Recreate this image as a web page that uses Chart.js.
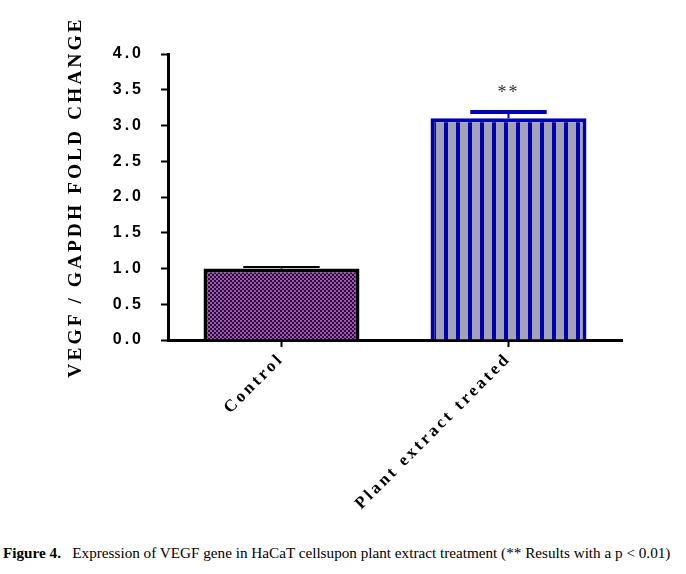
<!DOCTYPE html>
<html>
<head>
<meta charset="utf-8">
<script src="https://cdn.jsdelivr.net/npm/chart.js@4.4.1/dist/chart.umd.min.js"></script>
<style>
  html, body { margin: 0; padding: 0; background: #fff; }
  #wrap { position: relative; width: 686px; height: 574px; overflow: hidden; }
  #c { position: absolute; left: 0; top: 0; }
  #cap { position: absolute; left: 3px; top: 544px; font-family: "Liberation Serif", "Times New Roman", serif; font-size: 15.2px; color: #000; white-space: pre; }
</style>
</head>
<body>
<div id="wrap">
  <canvas id="c" width="686" height="530"></canvas>
  <div id="cap"><b>Figure 4.</b>   Expression of VEGF gene in HaCaT cellsupon plant extract treatment (** Results with a p &lt; 0.01)</div>
</div>
<script>
// ---- data ----
const categories = ['Control', 'Plant extract treated'];
const foldChange = [1.0, 3.1];
const errorSEM = [0.02, 0.09];
const significance = ['', '**'];
const yTickLabels = ['0.0', '0.5', '1.0', '1.5', '2.0', '2.5', '3.0', '3.5', '4.0'];
const yAxisTitle = 'VEGF / GAPDH FOLD CHANGE';

// ---- fill patterns ----
function checkerPattern(ctx) {
  const p = document.createElement('canvas');
  p.width = 4; p.height = 4;
  const g = p.getContext('2d');
  g.fillStyle = '#250a2e'; g.fillRect(0, 0, 4, 4);
  g.fillStyle = '#a052ba'; g.fillRect(0, 0, 2, 2); g.fillRect(2, 2, 2, 2);
  return ctx.createPattern(p, 'repeat');
}
function stripePattern(ctx) {
  const p = document.createElement('canvas');
  p.width = 12; p.height = 12;
  const g = p.getContext('2d');
  g.fillStyle = '#a3a3b6'; g.fillRect(0, 0, 12, 12);
  g.fillStyle = '#0000b0'; g.fillRect(0, 0, 4, 12);
  return ctx.createPattern(p, 'repeat');
}

const ctx = document.getElementById('c').getContext('2d');

const spacingPlugin = {
  id: 'spacing',
  beforeUpdate(chart) { chart.ctx.letterSpacing = '3px'; },
  beforeLayout(chart) { chart.ctx.letterSpacing = '3px'; },
  beforeDraw(chart) { chart.ctx.letterSpacing = '3px'; }
};

const errorBarPlugin = {
  id: 'errorBars',
  afterDatasetsDraw(chart) {
    const c = chart.ctx;
    const meta = chart.getDatasetMeta(0);
    const ys = chart.scales.y;
    const colors = ['#000000', '#0000b0'];
    meta.data.forEach((bar, i) => {
      const top = ys.getPixelForValue(foldChange[i] + errorSEM[i]);
      const half = bar.width * 0.245;
      c.save();
      c.strokeStyle = colors[i];
      c.lineWidth = 2;
      c.beginPath();
      c.moveTo(bar.x, bar.y);
      c.lineTo(bar.x, top);
      c.stroke();
      c.lineWidth = i === 0 ? 2 : 4;
      c.beginPath();
      c.moveTo(bar.x - half, top);
      c.lineTo(bar.x + half, top);
      c.stroke();
      if (significance[i]) {
        c.letterSpacing = '2px';
        c.fillStyle = '#333';
        c.font = '18px "Liberation Serif", serif';
        c.textAlign = 'center';
        c.textBaseline = 'bottom';
        c.fillText(significance[i], bar.x, top - 10);
      }
      c.restore();
    });
  }
};

new Chart(ctx, {
  type: 'bar',
  data: {
    labels: categories,
    datasets: [{
      data: foldChange,
      backgroundColor: [checkerPattern(ctx), stripePattern(ctx)],
      borderColor: ['#000000', '#0000b0'],
      borderWidth: 4,
      borderSkipped: 'bottom',
      barPercentage: 0.687,
      categoryPercentage: 1.0
    }]
  },
  options: {
    responsive: false,
    animation: false,
    devicePixelRatio: 1,
    layout: { padding: { left: 64, top: 54, right: 64, bottom: 0 } },
    plugins: { legend: { display: false }, tooltip: { enabled: false } },
    scales: {
      x: {
        offset: true,
        grid: { display: true, drawOnChartArea: false, drawTicks: true, tickLength: 7, tickWidth: 2, tickColor: '#000', offset: false },
        border: { display: true, color: '#000', width: 3 },
        ticks: {
          color: '#000', minRotation: 45, maxRotation: 45, padding: 2,
          font: { family: '"Liberation Serif", serif', size: 17, weight: 'bold' }
        },
        afterFit(scale) { scale.height = 190; }
      },
      y: {
        min: 0, max: 4,
        ticks: {
          stepSize: 0.5, color: '#000', padding: 17,
          font: { family: '"Liberation Sans", Arial, sans-serif', size: 16, weight: 'bold' },
          callback: (v, i) => yTickLabels[i]
        },
        grid: { display: true, drawOnChartArea: false, drawTicks: true, tickLength: 7, tickWidth: 2, tickColor: '#000' },
        border: { display: true, color: '#000', width: 3 },
        title: {
          display: true, text: yAxisTitle, color: '#000',
          font: { family: '"Liberation Serif", serif', size: 19.5, weight: 'bold' },
          padding: { top: 0, bottom: 0 }
        },
        afterFit(scale) { scale.width = 104; }
      }
    }
  },
  plugins: [spacingPlugin, errorBarPlugin]
});
</script>
</body>
</html>
